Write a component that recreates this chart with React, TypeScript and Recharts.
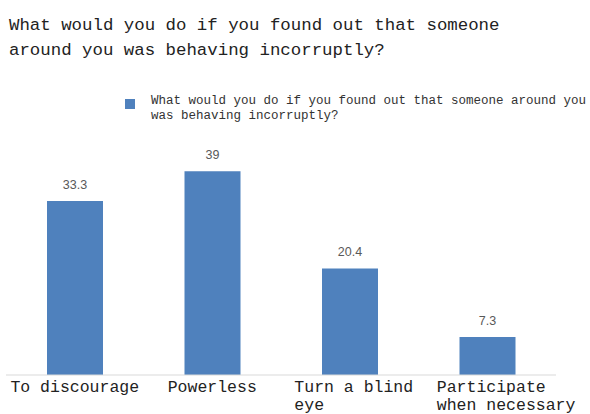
import React from "react";
import { BarChart, Bar, XAxis, YAxis, LabelList, Legend } from "recharts";

const categories = ["To discourage", "Powerless", "Turn a blind eye", "Participate when necessary"];
const values = [33.3, 39, 20.4, 7.3];
const seriesName = "What would you do if you found out that someone around you was behaving incorruptly?";
const titleLines = ["What would you do if you found out that someone", "around you was behaving incorruptly?"];

const data = categories.map((c, i) => ({ name: c, value: values[i] }));

const MONO = "'Liberation Mono', 'DejaVu Sans Mono', monospace";
const BLUE = "#4f81bd";

function wrap(label: string, maxChars: number): string[] {
  const words = label.split(" ");
  const lines: string[] = [];
  let cur = "";
  for (const w of words) {
    const t = cur ? cur + " " + w : w;
    if (t.length > maxChars && cur) {
      lines.push(cur);
      cur = w;
    } else cur = t;
  }
  if (cur) lines.push(cur);
  return lines;
}

const Tick = (props: any) => {
  const { x, y, payload } = props;
  const fs = 16.5;
  const cw = fs * 0.6;
  const lines = wrap(String(payload.value), 14);
  const left = x - (lines[0].length * cw) / 2 + (lines.length > 1 ? 4 : 0);
  return (
    <g>
      {lines.map((l, i) => (
        <text key={i} x={left} y={y + 9 + i * 18} textAnchor="start" fontFamily={MONO} fontSize={fs} fill="#222">
          {l}
        </text>
      ))}
    </g>
  );
};

const LegendContent = () => (
  <div style={{ position: "relative", fontFamily: MONO, fontSize: 12.5, lineHeight: "15px", color: "#333", textAlign: "left" }}>
    <span style={{ position: "absolute", left: 3, top: 5, width: 10, height: 10, background: BLUE }} />
    <div style={{ marginLeft: 29, width: 440 }}>{seriesName}</div>
  </div>
);

export default function App() {
  return (
    <div style={{ position: "absolute", left: 0, top: 0, width: 590, height: 414, background: "#fff" }}>
      <div style={{ position: "absolute", left: 9, top: 13, fontFamily: MONO, fontSize: 17.4, lineHeight: "25px", color: "#222", whiteSpace: "pre" }}>
        {titleLines.map((l, i) => (
          <div key={i}>{l}</div>
        ))}
      </div>
      <BarChart width={590} height={414} data={data} margin={{ top: 110, right: 34, bottom: 0, left: 6 }}>
        <XAxis dataKey="name" height={39} axisLine={{ stroke: "#d9d9d9" }} tickLine={false} tick={<Tick />} interval={0} />
        <YAxis hide domain={[0, 45]} />
        <Legend align="right" verticalAlign="top" wrapperStyle={{ top: 94, left: 122, width: 468 }} content={<LegendContent />} />
        <Bar dataKey="value" name={seriesName} fill={BLUE} barSize={56} isAnimationActive={false}>
          <LabelList dataKey="value" position="top" offset={12} fill="#595959" fontSize={12.5} fontFamily="'Liberation Sans', Arial, sans-serif" />
        </Bar>
      </BarChart>
    </div>
  );
}
